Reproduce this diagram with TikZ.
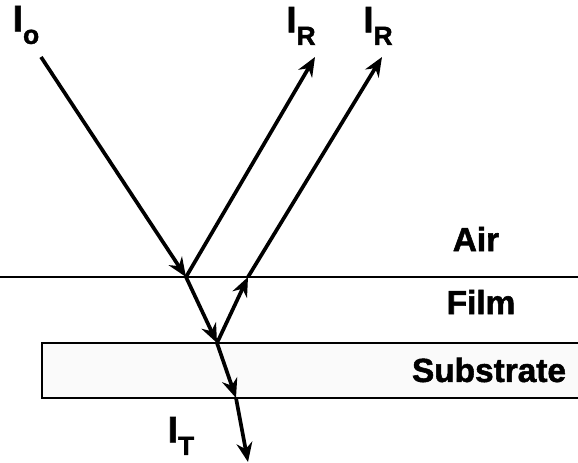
\documentclass[tikz,border=0pt]{standalone}
\usepackage{fontspec}
\setmainfont{Liberation Sans}
\newfontfamily\heavyfont{Liberation Sans Bold}[FakeBold=1.6]
\usetikzlibrary{arrows.meta,positioning}
\newcommand{\lowsub}[1]{\raisebox{-0.34em}{\fontsize{15}{17}\selectfont #1}}
\tikzset{
  >={Stealth[length=11pt,width=9pt]},
  ray/.style={->,line width=2.1pt},
  iface/.style={line width=1.3pt},
  beam/.style={font=\heavyfont\fontsize{21}{25}\selectfont},
  medium/.style={font=\heavyfont\fontsize{19}{23}\selectfont},
}

\begin{document}
\begin{tikzpicture}[x=0.02cm,y=-0.02cm]
    \useasboundingbox (0,0) rectangle (578,463);

    % Layers
    \fill[gray!4] (42,343) rectangle (578,398);
    \draw[iface] (0,277) -- (578,277);
    \draw[iface] (578,343) -- (42,343) -- (42,398) -- (578,398);

    % Ray points
    \coordinate (src) at (41,57);
    \coordinate (p1)  at (186,277);
    \coordinate (p2)  at (217,343);
    \coordinate (p3)  at (248,277);
    \coordinate (p4)  at (236,398);
    \coordinate (r1)  at (315,57);
    \coordinate (r2)  at (382,57);
    \coordinate (tr)  at (248,462);

    % Labels
    \node[beam] (io)  at (26,25)  {I\lowsub{o}};
    \node[beam] (ir1) at (301,26) {I\lowsub{R}};
    \node[beam] (ir2) at (378,26) {I\lowsub{R}};
    \node[beam] (it)  at (181,436) {I\lowsub{T}};
    \node[medium] (air)  at (476,239) {Air};
    \node[medium] (film) at (481,302) {Film};
    \node[medium] (sub)  at (489,370) {Substrate};

    % Rays
    \draw[ray] (src) -- (p1);
    \draw[ray] (p1) -- (r1);
    \draw[ray] (p1) -- (p2);
    \draw[ray] (p2) -- (p3);
    \draw[ray] (p3) -- (r2);
    \draw[ray] (p2) -- (p4);
    \draw[ray] (p4) -- (tr);
\end{tikzpicture}
\end{document}
